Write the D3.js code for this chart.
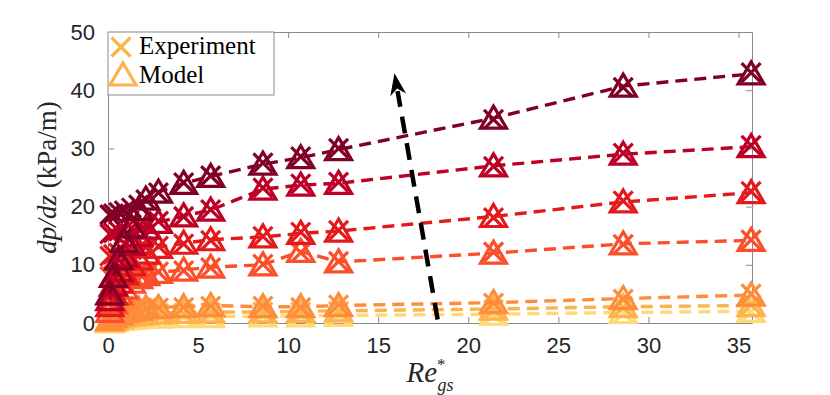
<!DOCTYPE html>
<html lang="en">
<head>
<meta charset="UTF-8">
<title>dp/dz vs Re*gs</title>
<script src="https://cdn.jsdelivr.net/npm/d3@7"></script>
<style>
  body { margin: 0; background: #fff; }
  svg { display: block; }
</style>
</head>
<body>
<div id="output"></div>
<script>

// gas Reynolds numbers shared by every series
var reGs = [0.1, 0.3, 0.6, 0.9, 1.3, 1.7, 2.1, 2.8, 4.2, 5.7, 8.6, 10.7, 12.8, 21.4, 28.6, 35.7];

// pressure gradient (kPa/m), lightest series first
var exp7   = [0.3, 0.4, 0.5, 0.7, 0.8, 0.8, 0.9, 1.0, 1.0, 1.1, 1.1, 1.2, 1.2, 1.4, 1.7, 1.9];
var model7 = [0.2, 0.4, 0.6, 0.7, 0.8, 0.9, 1.0, 1.0, 1.1, 1.1, 1.2, 1.2, 1.3, 1.5, 1.8, 2.0];
var exp6   = [0.5, 0.8, 1.0, 1.2, 1.3, 1.5, 1.6, 1.7, 1.7, 1.8, 1.9, 1.9, 2.0, 2.3, 2.7, 3.1];
var model6 = [0.4, 0.7, 1.0, 1.2, 1.4, 1.5, 1.6, 1.7, 1.8, 1.9, 1.9, 2.0, 2.1, 2.4, 2.8, 3.0];
var exp5   = [0.8, 1.2, 1.6, 1.9, 2.1, 2.3, 2.5, 2.6, 2.7, 2.9, 2.9, 2.7, 3.1, 3.4, 4.1, 5.0];
var model5 = [0.6, 1.1, 1.5, 1.9, 2.2, 2.4, 2.6, 2.7, 2.8, 3.0, 2.8, 2.8, 3.0, 3.5, 4.2, 4.8];
var exp4   = [8.0, 8.1, 8.2, 8.3, 8.5, 8.6, 8.7, 8.8, 9.0, 9.5, 10.1, 12.1, 10.6, 12.2, 13.5, 14.3];
var model4 = [2.0, 3.5, 5.0, 6.0, 7.0, 7.8, 8.3, 8.7, 9.1, 9.6, 10.0, 12.3, 10.5, 12.0, 13.6, 14.2];
var exp3   = [11.5, 11.8, 12.0, 12.3, 12.6, 12.8, 13.0, 13.2, 13.6, 14.2, 14.9, 15.6, 15.9, 18.1, 21.0, 22.6];
var model3 = [3.0, 5.0, 7.0, 8.5, 10.0, 11.0, 12.0, 13.0, 13.7, 14.3, 14.8, 15.4, 15.8, 18.3, 20.8, 22.4];
var exp2   = [15.3, 15.5, 15.8, 16.0, 16.3, 16.6, 17.0, 17.5, 18.3, 19.5, 23.2, 23.9, 24.2, 26.9, 29.2, 30.5];
var model2 = [4.0, 6.5, 9.0, 11.5, 13.5, 15.0, 16.3, 17.3, 18.4, 19.4, 23.0, 23.7, 24.0, 27.0, 29.0, 30.3];
var exp1   = [18.6, 18.8, 19.0, 19.3, 19.8, 20.3, 21.2, 22.4, 24.1, 25.3, 27.5, 28.6, 30.0, 35.0, 40.5, 43.0];
var model1 = [5.0, 8.0, 11.0, 14.0, 16.5, 19.5, 21.3, 22.5, 24.0, 25.2, 27.3, 28.4, 29.8, 35.2, 40.7, 42.8];

var colours = ["#fed976", "#feb24c", "#fd8d3c", "#fc4e2a", "#e31a1c", "#bd0026", "#800026"];
var expSets = [exp7, exp6, exp5, exp4, exp3, exp2, exp1];
var modelSets = [model7, model6, model5, model4, model3, model2, model1];

var xTicks = [0, 5, 10, 15, 20, 25, 30, 35];
var yTicks = [0, 10, 20, 30, 40, 50];
var legendLabels = ["Experiment", "Model"];
var legendColour = "#feb24c";

// trend arrow, data coordinates (tail, head)
var arrowFrom = [18.3, 0.6];
var arrowTo = [15.9, 42.9];

var w = 830, h = 395;
var mL = 108, mR = 752, mT = 32, mB = 323;

var svg = d3.select("#output")
    .append("svg")
    .attr("width", w)
    .attr("height", h);

var x = d3.scaleLinear().domain([0, 35.75]).range([mL, mR]);
var y = d3.scaleLinear().domain([0, 50]).range([mB, mT]);

var axisColour = "#8a8a8a";
var textColour = "#262626";

function styleAxis(g) {
    g.select(".domain").attr("stroke", axisColour).attr("stroke-width", 1);
    g.selectAll(".tick line").attr("stroke", axisColour).attr("stroke-width", 1);
    g.selectAll(".tick text")
        .attr("fill", textColour)
        .style("font-family", "'Liberation Sans', Arial, sans-serif")
        .style("font-size", "22px");
}

svg.append("g")
    .attr("transform", "translate(0," + mB + ")")
    .call(d3.axisBottom(x).tickValues(xTicks).tickSize(-6).tickSizeOuter(0).tickPadding(14))
    .call(styleAxis);
svg.append("g")
    .attr("transform", "translate(0," + mT + ")")
    .call(d3.axisTop(x).tickValues(xTicks).tickSize(-6).tickSizeOuter(0).tickFormat(""))
    .call(styleAxis);
svg.append("g")
    .attr("transform", "translate(" + mL + ",0)")
    .call(d3.axisLeft(y).tickValues(yTicks).tickSize(-6).tickSizeOuter(0).tickPadding(13))
    .call(styleAxis);
svg.append("g")
    .attr("transform", "translate(" + mR + ",0)")
    .call(d3.axisRight(y).tickValues(yTicks).tickSize(-6).tickSizeOuter(0).tickFormat(""))
    .call(styleAxis);

var triPath = "M0,-12L13,10L-13,10Z";
var crossPath = "M-9.5,-9.5L9.5,9.5M-9.5,9.5L9.5,-9.5";

var line = d3.line()
    .x(function (d) { return x(d[0]); })
    .y(function (d) { return y(d[1]); });

var plot = svg.append("g");

colours.forEach(function (c, i) {
    var exp = reGs.map(function (v, j) { return [v, expSets[i][j]]; });
    var mod = reGs.map(function (v, j) { return [v, modelSets[i][j]]; });
    var g = plot.append("g");

    g.selectAll("path.exp")
        .data(exp)
        .enter().append("path")
        .attr("class", "exp")
        .attr("d", crossPath)
        .attr("transform", function (d) { return "translate(" + x(d[0]) + "," + y(d[1]) + ")"; })
        .attr("fill", "none")
        .attr("stroke", c)
        .attr("stroke-width", 3.2);

    g.append("path")
        .datum(mod)
        .attr("d", line)
        .attr("fill", "none")
        .attr("stroke", c)
        .attr("stroke-width", 3.4)
        .attr("stroke-dasharray", "12,7");

    g.selectAll("path.mod")
        .data(mod)
        .enter().append("path")
        .attr("class", "mod")
        .attr("d", triPath)
        .attr("transform", function (d) { return "translate(" + x(d[0]) + "," + y(d[1]) + ")"; })
        .attr("fill", "none")
        .attr("stroke", c)
        .attr("stroke-width", 3.2)
        .attr("stroke-linejoin", "miter");
});

// arrow
var ax0 = x(arrowFrom[0]), ay0 = y(arrowFrom[1]);
var ax1 = x(arrowTo[0]), ay1 = y(arrowTo[1]);
var len = Math.hypot(ax1 - ax0, ay1 - ay0);
var ux = (ax1 - ax0) / len, uy = (ay1 - ay0) / len;
var headLen = 22, headHalf = 8;
svg.append("line")
    .attr("x1", ax0).attr("y1", ay0)
    .attr("x2", ax1 - ux * (headLen - 4)).attr("y2", ay1 - uy * (headLen - 4))
    .attr("stroke", "#000")
    .attr("stroke-width", 4.5)
    .attr("stroke-dasharray", "17,10");
var bx = ax1 - ux * headLen, by = ay1 - uy * headLen;
var nx = -uy, ny = ux;
var notchX = ax1 - ux * headLen * 0.7, notchY = ay1 - uy * headLen * 0.7;
svg.append("path")
    .attr("d", "M" + ax1 + "," + ay1 +
        "L" + (bx + nx * headHalf) + "," + (by + ny * headHalf) +
        "L" + notchX + "," + notchY +
        "L" + (bx - nx * headHalf) + "," + (by - ny * headHalf) + "Z")
    .attr("fill", "#000");

// legend
var leg = svg.append("g");
leg.append("rect")
    .attr("x", mL).attr("y", mT)
    .attr("width", 166).attr("height", 63)
    .attr("fill", "#fff")
    .attr("stroke", axisColour)
    .attr("stroke-width", 1);
leg.append("path")
    .attr("d", crossPath)
    .attr("transform", "translate(121,47)")
    .attr("fill", "none").attr("stroke", legendColour).attr("stroke-width", 3.2);
leg.append("path")
    .attr("d", triPath)
    .attr("transform", "translate(123,75)")
    .attr("fill", "none").attr("stroke", legendColour).attr("stroke-width", 3.2);
leg.selectAll("text")
    .data(legendLabels)
    .enter().append("text")
    .attr("x", 139)
    .attr("y", function (d, i) { return 54 + i * 29; })
    .attr("fill", "#000")
    .style("font-family", "'Liberation Serif', 'Times New Roman', serif")
    .style("font-size", "25px")
    .text(function (d) { return d; });

// axis labels
var xl = svg.append("text")
    .attr("x", (mL + mR) / 2)
    .attr("y", 382)
    .attr("text-anchor", "middle")
    .attr("fill", textColour)
    .style("font-family", "'Liberation Serif', 'Times New Roman', serif")
    .style("font-size", "29px");
xl.append("tspan").style("font-style", "italic").text("Re");
xl.append("tspan").attr("dy", -12).style("font-size", "17px").text("*");
xl.append("tspan").attr("dx", -8).attr("dy", 21).style("font-size", "18px").style("font-style", "italic").text("gs");

var yl = svg.append("text")
    .attr("transform", "translate(56," + ((mT + mB) / 2) + ") rotate(-90)")
    .attr("text-anchor", "middle")
    .attr("fill", textColour)
    .style("font-family", "'Liberation Serif', 'Times New Roman', serif")
    .style("font-size", "27px");
yl.append("tspan").style("font-style", "italic").text("dp/dz");
yl.append("tspan").text(" (kPa/m)");

</script>
</body>
</html>
